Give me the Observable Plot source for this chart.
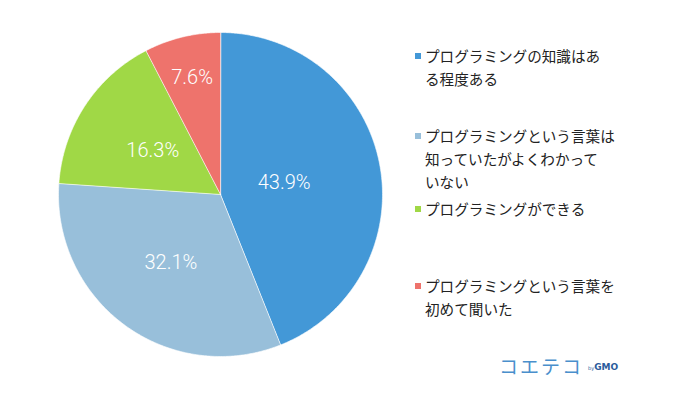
<!DOCTYPE html>
<html><head><meta charset="utf-8">
<script src="https://cdn.jsdelivr.net/npm/d3@7"></script>
<script src="https://cdn.jsdelivr.net/npm/@observablehq/plot@0.6"></script>
<style>
body{margin:0;background:#fff;}
#wrap{position:relative;width:700px;height:396px;overflow:hidden;}
#chart{position:absolute;left:0;top:0;}
.leg{position:absolute;left:425px;font-family:"Noto Sans CJK JP",sans-serif;font-size:14.6px;line-height:23px;color:#222;white-space:nowrap;}
.sw{position:absolute;left:-10px;top:9px;width:6px;height:6px;}
#logo{position:absolute;left:499px;top:352px;font-family:"Noto Sans CJK JP",sans-serif;font-size:19px;color:#4a8fcc;letter-spacing:2px;}
#gmo{position:absolute;left:588px;top:362px;font-family:"DejaVu Sans",sans-serif;font-size:9px;font-weight:bold;color:#2a5b9c;}
#gmo small{font-size:5px;font-weight:normal;}
</style></head>
<body><div id="wrap"><div id="chart"></div></div>
<script>
const categories = [
  "プログラミングの知識はある程度ある",
  "プログラミングという言葉は知っていたがよくわかっていない",
  "プログラミングができる",
  "プログラミングという言葉を初めて聞いた"
];
const legendLines = [
  ["プログラミングの知識はあ","る程度ある"],
  ["プログラミングという言葉は","知っていたがよくわかって","いない"],
  ["プログラミングができる"],
  ["プログラミングという言葉を","初めて聞いた"]
];
const values = [43.9, 32.1, 16.3, 7.6];
const colors = ["#4398d7", "#98bfda", "#a0d846", "#ee736c"];

// layout (not data)
const legendTops = [44, 124, 197, 274];
const labelRadius = [0.40, 0.52, 0.50, 0.74];

const total = d3.sum(values);
const slices = [];
const labels = [];
let acc = 0;
values.forEach((v, i) => {
  const a0 = acc / total * 2 * Math.PI;
  acc += v;
  const a1 = acc / total * 2 * Math.PI;
  const n = Math.max(2, Math.ceil((a1 - a0) / 0.01));
  slices.push({key: categories[i], x: 0, y: 0});
  for (let k = 0; k <= n; k++) {
    const a = a0 + (a1 - a0) * k / n;
    slices.push({key: categories[i], x: Math.sin(a), y: Math.cos(a)});
  }
  const m = (a0 + a1) / 2;
  labels.push({key: categories[i], x: labelRadius[i] * Math.sin(m), y: labelRadius[i] * Math.cos(m), text: v.toFixed(1) + "%"});
});

const plot = Plot.plot({
  width: 700, height: 396,
  marginLeft: 58, marginRight: 318, marginTop: 32, marginBottom: 40,
  x: {domain: [-1, 1], axis: null},
  y: {domain: [-1, 1], axis: null},
  color: {domain: categories, range: colors},
  marks: [
    Plot.line(slices, {x: "x", y: "y", z: "key", fill: "key", stroke: "white", strokeWidth: 0.6, curve: "linear-closed"}),
    Plot.text(labels, {x: "x", y: "y", text: "text", fill: "white", fontSize: 20, fontFamily: "Roboto", fontWeight: 300})
  ]
});
document.getElementById("chart").appendChild(plot);

const wrap = document.getElementById("wrap");
legendLines.forEach((lines, i) => {
  const d = document.createElement("div");
  d.className = "leg";
  d.style.top = legendTops[i] + "px";
  d.innerHTML = lines.join("<br>");
  const s = document.createElement("div");
  s.className = "sw";
  s.style.background = colors[i];
  d.appendChild(s);
  wrap.appendChild(d);
});
const logo = document.createElement("div");
logo.id = "logo"; logo.textContent = "コエテコ";
wrap.appendChild(logo);
const gmo = document.createElement("div");
gmo.id = "gmo"; gmo.innerHTML = "<small>by</small>GMO";
wrap.appendChild(gmo);
</script></body></html>
